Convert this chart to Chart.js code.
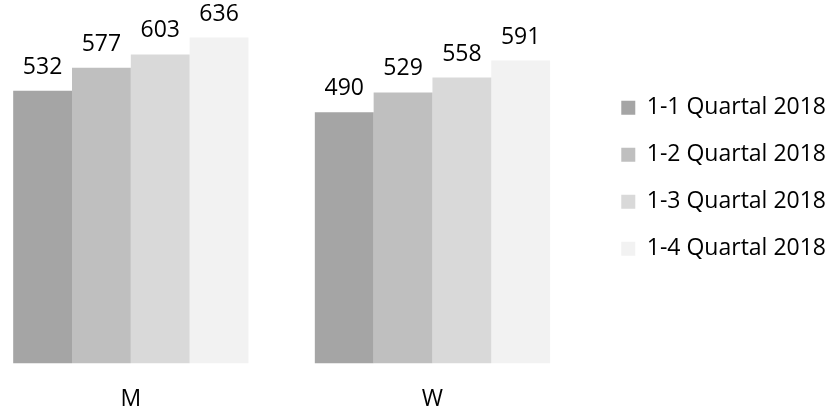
<!DOCTYPE html>
<html>
<head>
<meta charset="utf-8">
<script src="https://cdn.jsdelivr.net/npm/chart.js@4.4.1/dist/chart.umd.min.js"></script>
<style>
    html, body { margin: 0; padding: 0; background: #fff; }
    #wrap { position: relative; width: 829px; height: 409px; overflow: hidden; }
    #chart { position: absolute; left: -20px; top: -7px; }
</style>
</head>
<body>
<div id="wrap">
    <canvas id="chart" width="856" height="442"></canvas>
</div>
<script>
// Chart data
const categories = ['M', 'W']
const seriesNames = ['1-1 Quartal 2018', '1-2 Quartal 2018', '1-3 Quartal 2018', '1-4 Quartal 2018']
const q1 = [532, 490]
const q2 = [577, 529]
const q3 = [603, 558]
const q4 = [636, 591]
const colors = ['#a5a5a5', '#bfbfbf', '#d9d9d9', '#f2f2f2']

const font = { family: 'Open Sans', size: 23 }

// Value labels above each bar
const valueLabels = {
    id: 'valueLabels',
    afterDatasetsDraw(chart) {
        const ctx = chart.ctx
        ctx.save()
        ctx.font = font.size + 'px ' + font.family
        ctx.fillStyle = '#000'
        ctx.textAlign = 'center'
        ctx.textBaseline = 'alphabetic'
        chart.data.datasets.forEach((ds, i) => {
            chart.getDatasetMeta(i).data.forEach((bar, j) => {
                ctx.fillText(ds.data[j], bar.x, bar.y - 17)
            })
        })
        ctx.restore()
    }
}

const values = [q1, q2, q3, q4]

new Chart(document.getElementById('chart'), {
    type: 'bar',
    data: {
        labels: categories,
        datasets: seriesNames.map((name, i) => ({
            label: name,
            data: values[i],
            backgroundColor: colors[i],
            borderWidth: 0,
            categoryPercentage: 0.78,
            barPercentage: 1
        }))
    },
    options: {
        responsive: false,
        animation: false,
        layout: { padding: 0 },
        plugins: {
            tooltip: { enabled: false },
            legend: {
                position: 'right',
                fullSize: false,
                align: 'center',
                maxWidth: 400,
                labels: {
                    boxWidth: 14,
                    boxHeight: 14,
                    padding: 24,
                    color: '#000',
                    font: font
                }
            }
        },
        scales: {
            x: {
                grid: { display: false, drawTicks: false },
                border: { display: false },
                ticks: { padding: 22, color: '#000', font: font }
            },
            y: {
                position: 'right',
                min: 0,
                max: 723,
                grid: { display: false, drawTicks: false },
                border: { display: false },
                ticks: { display: false },
                afterFit(scale) { scale.width = 14 }
            }
        }
    },
    plugins: [valueLabels]
})
</script>
</body>
</html>
